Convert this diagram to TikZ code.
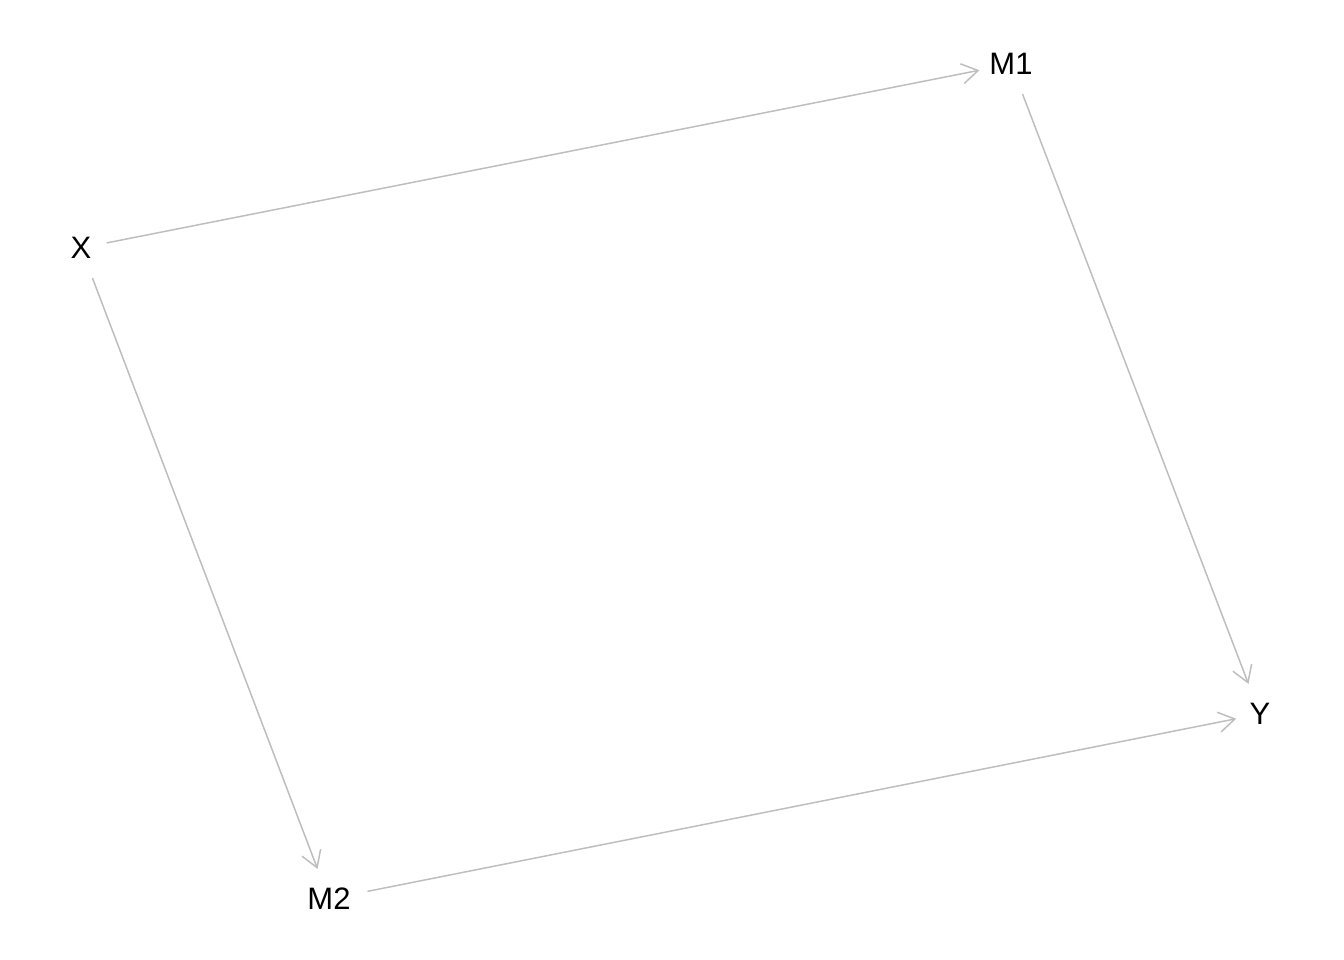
\documentclass[tikz,border=0pt]{standalone}
\usepackage{fontspec}
\setmainfont{Liberation Sans}
\usetikzlibrary{arrows.meta}
\begin{document}
\begin{tikzpicture}[x=1pt,y=-1pt,
  var/.style={circle,inner sep=0pt,minimum size=64pt,font=\fontsize{31}{34}\selectfont,text=black},
  link/.style={draw={rgb,255:red,190;green,190;blue,190},line width=1.5pt,-{Straight Barb[length=16pt,width=20pt,line width=1.5pt]}}]
\useasboundingbox (0,0) rectangle (1344,960);
\node[var] (X) at (81,248) {X};
\node[var] (M1) at (1011,64) {M1};
\node[var] (M2) at (329,899) {M2};
\node[var] (Y) at (1260,714) {Y};
\draw[link,shorten <=-6pt] (X) -- (M1);
\draw[link] (M1) -- (Y);
\draw[link] (X) -- (M2);
\draw[link,shorten <=7pt,shorten >=-8pt] (M2) -- (Y);
\end{tikzpicture}
\end{document}
